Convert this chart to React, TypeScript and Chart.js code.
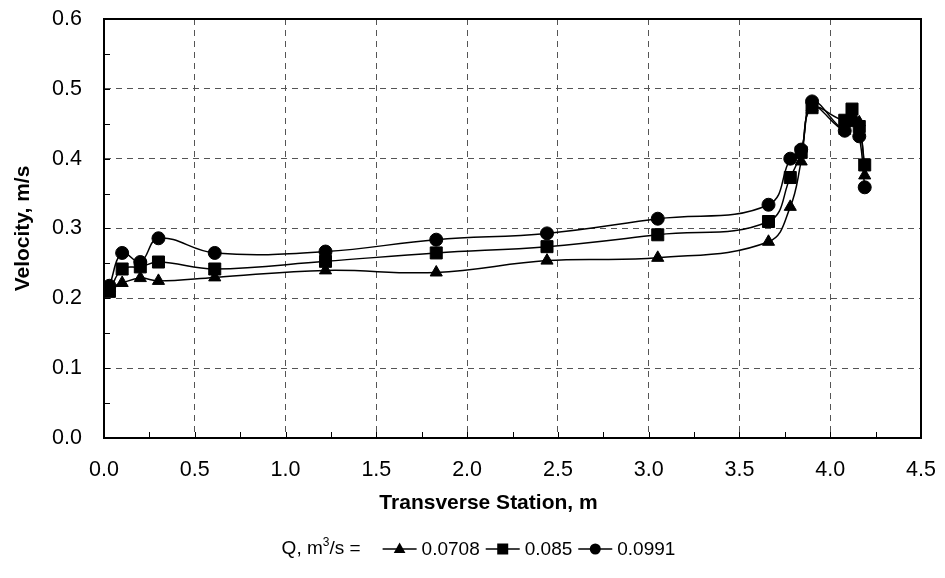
import React, { useEffect, useRef } from "react";
import { Chart, registerables } from "chart.js";

Chart.register(...registerables);

const stations = [0.03, 0.1, 0.2, 0.3, 0.61, 1.22, 1.83, 2.44, 3.05, 3.66, 3.78, 3.84, 3.9, 4.08, 4.12, 4.16, 4.19];
const seriesLabels = ["0.0708", "0.085", "0.0991"];
const velocity0708 = [0.215, 0.222, 0.229, 0.225, 0.230, 0.240, 0.237, 0.254, 0.258, 0.281, 0.331, 0.396, 0.474, 0.440, 0.458, 0.452, 0.376];
const velocity085 = [0.210, 0.242, 0.245, 0.252, 0.242, 0.253, 0.265, 0.274, 0.291, 0.310, 0.373, 0.409, 0.473, 0.455, 0.471, 0.446, 0.391];
const velocity0991 = [0.218, 0.265, 0.252, 0.286, 0.265, 0.267, 0.284, 0.293, 0.314, 0.334, 0.400, 0.413, 0.482, 0.440, 0.455, 0.432, 0.359];
const xTickMax = 4.5;
const yTickMax = 0.6;
const xTitle = "Transverse Station, m";
const yTitle = "Velocity, m/s";

const FONT = "'Liberation Sans', Arial, sans-serif";

const toPoints = (ys: number[]) => stations.map((x, i) => ({ x, y: ys[i] }));

const frameAndTicks = {
  id: "frameAndTicks",
  afterDatasetsDraw(chart: any) {
    const { ctx, chartArea, scales } = chart;
    const { left, right, top, bottom } = chartArea;
    ctx.save();
    ctx.strokeStyle = "#000";
    ctx.lineWidth = 1;
    ctx.beginPath();
    for (let i = 0; i <= 18; i++) {
      const v = i * 0.25;
      const px = Math.round(scales.x.getPixelForValue(v)) + 0.5;
      ctx.moveTo(px, bottom);
      ctx.lineTo(px, bottom - 6);
    }
    for (let i = 0; i <= 12; i++) {
      const v = i * 0.05;
      const py = Math.round(scales.y.getPixelForValue(v)) + 0.5;
      ctx.moveTo(left, py);
      ctx.lineTo(left + 6, py);
    }
    ctx.stroke();
    ctx.lineWidth = 2;
    ctx.strokeRect(left, top, right - left, bottom - top);
    ctx.restore();
  },
};

const xTitlePlugin = {
  id: "xTitle",
  afterDraw(chart: any) {
    const { ctx, width } = chart;
    ctx.save();
    ctx.fillStyle = "#000";
    ctx.font = `bold 21px ${FONT}`;
    ctx.textAlign = "center";
    ctx.textBaseline = "middle";
    ctx.fillText(xTitle, width / 2 + 16, 503);
    ctx.restore();
  },
};

const legendPlugin = {
  id: "customLegend",
  afterDraw(chart: any) {
    const { ctx, width } = chart;
    const y = 549;
    const fs = 19;
    ctx.save();
    ctx.fillStyle = "#000";
    ctx.strokeStyle = "#000";
    ctx.textBaseline = "middle";
    ctx.font = `${fs}px ${FONT}`;
    const supFont = `${Math.round(fs * 0.65)}px ${FONT}`;
    const p1 = "Q, m";
    const p2 = "3";
    const p3 = "/s =";
    const w1 = ctx.measureText(p1).width;
    ctx.font = supFont;
    const w2 = ctx.measureText(p2).width;
    ctx.font = `${fs}px ${FONT}`;
    const w3 = ctx.measureText(p3).width;
    const prefixW = w1 + w2 + w3;
    const gap = 22;
    const lineW = 34;
    const items = chart.data.datasets.map((ds: any) => ({ ds, w: ctx.measureText(ds.label).width }));
    let total = prefixW + gap;
    items.forEach((it: any, i: number) => {
      total += lineW + 5 + it.w + (i < items.length - 1 ? 6 : 0);
    });
    let x = width / 2 - total / 2 + 6;
    ctx.textAlign = "left";
    ctx.fillText(p1, x, y);
    x += w1;
    ctx.font = supFont;
    ctx.fillText(p2, x, y - 6);
    x += w2;
    ctx.font = `${fs}px ${FONT}`;
    ctx.fillText(p3, x, y);
    x += w3 + gap;
    items.forEach((it: any) => {
      ctx.lineWidth = 1.5;
      ctx.beginPath();
      ctx.moveTo(x, y);
      ctx.lineTo(x + lineW, y);
      ctx.stroke();
      const cx = x + lineW / 2;
      const st = it.ds.pointStyle;
      ctx.beginPath();
      if (st === "triangle") {
        const r = 6.5;
        ctx.moveTo(cx, y - r);
        ctx.lineTo(cx + r * 0.9, y + r * 0.6);
        ctx.lineTo(cx - r * 0.9, y + r * 0.6);
        ctx.closePath();
      } else if (st === "rect") {
        ctx.rect(cx - 5.5, y - 5.5, 11, 11);
      } else {
        ctx.arc(cx, y, 5.5, 0, Math.PI * 2);
      }
      ctx.fill();
      x += lineW + 5;
      ctx.fillText(it.ds.label, x, y + 1);
      x += it.w + 6;
    });
    ctx.restore();
  },
};

export default function App() {
  const canvasRef = useRef<HTMLCanvasElement | null>(null);

  useEffect(() => {
    if (!canvasRef.current) return;
    const mk = (label: string, ys: number[], style: string, radius: number) => ({
      label,
      data: toPoints(ys),
      showLine: true,
      borderColor: "#000",
      backgroundColor: "#000",
      borderWidth: 1.5,
      pointStyle: style,
      pointRadius: radius,
      pointBorderWidth: 1,
      pointBackgroundColor: "#000",
      pointBorderColor: "#000",
      tension: 0.4,
      fill: false,
    });
    const chart = new Chart(canvasRef.current, {
      type: "scatter",
      data: {
        datasets: [
          mk(seriesLabels[0], velocity0708, "triangle", 7),
          mk(seriesLabels[1], velocity085, "rect", 8.5),
          mk(seriesLabels[2], velocity0991, "circle", 6.5),
        ],
      },
      options: {
        animation: false,
        responsive: true,
        maintainAspectRatio: false,
        layout: { padding: { top: 19, right: 24, bottom: 40, left: 0 } },
        plugins: {
          legend: { display: false },
          tooltip: { enabled: false },
        },
        scales: {
          x: {
            type: "linear",
            min: 0,
            max: xTickMax,
            afterFit: (s: any) => {
              s.height = 100;
              s.paddingLeft = 0;
              s.paddingRight = 0;
            },
            ticks: {
              stepSize: 0.5,
              padding: 19,
              color: "#000",
              font: { family: FONT, size: 21.5 },
              callback: (v: any) => Number(v).toFixed(1),
              maxRotation: 0,
              autoSkip: false,
            },
            grid: {
              color: "#555",
              lineWidth: 1,
              drawTicks: false,
            },
            border: { display: true, color: "#000", width: 2, dash: [6, 5] },
            title: { display: false },
          },
          y: {
            type: "linear",
            min: 0,
            max: yTickMax,
            afterFit: (s: any) => {
              s.width = 104;
              s.paddingTop = 0;
              s.paddingBottom = 0;
            },
            ticks: {
              stepSize: 0.1,
              padding: 22,
              color: "#000",
              font: { family: FONT, size: 21.5 },
              callback: (v: any) => Number(v).toFixed(1),
              autoSkip: false,
            },
            grid: {
              color: "#555",
              lineWidth: 1,
              drawTicks: false,
            },
            border: { display: true, color: "#000", width: 2, dash: [6, 5] },
            title: {
              display: true,
              text: yTitle,
              color: "#000",
              font: { family: FONT, size: 21, weight: "bold" },
              padding: { top: 11, bottom: 0 },
            },
          },
        },
      },
      plugins: [frameAndTicks, xTitlePlugin, legendPlugin],
    } as any);
    return () => chart.destroy();
  }, []);

  return (
    <div style={{ position: "absolute", left: 0, top: 0, width: 945, height: 578, background: "#fff" }}>
      <canvas ref={canvasRef} />
    </div>
  );
}
